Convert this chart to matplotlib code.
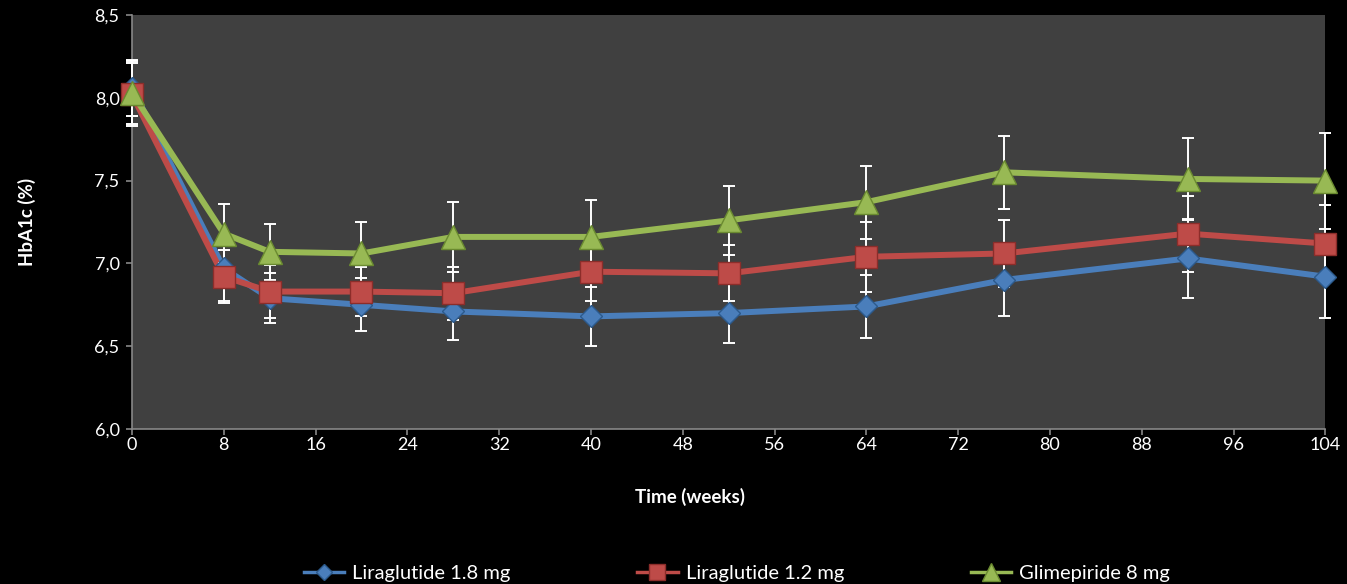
import numpy as np
import matplotlib.pyplot as plt
from matplotlib.ticker import FuncFormatter
from matplotlib.lines import Line2D

plt.rcParams['font.family'] = ['Lato', 'DejaVu Sans']

weeks = [0, 8, 12, 20, 28, 40, 52, 64, 76, 92, 104]

lira18 = [8.06, 6.97, 6.79, 6.75, 6.71, 6.68, 6.70, 6.74, 6.90, 7.03, 6.92]
lira18_err = [0.17, 0.20, 0.15, 0.16, 0.17, 0.18, 0.18, 0.19, 0.22, 0.24, 0.25]

lira12 = [8.02, 6.92, 6.83, 6.83, 6.82, 6.95, 6.94, 7.04, 7.06, 7.18, 7.12]
lira12_err = [0.19, 0.16, 0.16, 0.15, 0.16, 0.18, 0.17, 0.21, 0.20, 0.23, 0.23]

glim = [8.03, 7.18, 7.07, 7.06, 7.16, 7.16, 7.26, 7.37, 7.55, 7.51, 7.50]
glim_err = [0.19, 0.18, 0.17, 0.19, 0.21, 0.22, 0.21, 0.22, 0.22, 0.25, 0.29]

labels = ['Liraglutide 1.8 mg', 'Liraglutide 1.2 mg', 'Glimepiride 8 mg']

series = [
    (lira18, lira18_err, '#4A7EBB', '#2C5A8C', 'D', 11),
    (lira12, lira12_err, '#BE4B48', '#8C2D2A', 's', 15.5),
    (glim, glim_err, '#98B954', '#6A8A30', '^', 17.5),
]

fig = plt.figure(figsize=(13.47, 5.84), dpi=100, facecolor='black')
ax = fig.add_axes([0.098, 0.2654, 0.8859, 0.7089])
ax.set_facecolor('#404040')

handles = []
for (vals, err, col, edge, mk, ms), lab in zip(series, labels):
    ax.plot(weeks, vals, color=col, lw=4.3, zorder=2, solid_joinstyle='round',
            clip_on=False)
    eb = ax.errorbar(weeks, vals, yerr=err, fmt='none', ecolor='white',
                     elinewidth=1.4, capsize=4.5, capthick=1.4, zorder=3)
    for art in eb.lines[1] + eb.lines[2]:
        art.set_clip_on(False)
    ax.plot(weeks, vals, ls='none', marker=mk, ms=ms, mfc=col, mec=edge,
            mew=1.0, zorder=4, clip_on=False)
    handles.append(Line2D([0], [0], color=col, lw=2.5, marker=mk,
                          ms=ms * 0.75, mfc=col, mec=edge, label=lab))

ax.set_xlim(0, 104)
ax.set_ylim(6.0, 8.5)
ax.set_xticks(np.arange(0, 105, 8))
ax.set_yticks(np.arange(6.0, 8.51, 0.5))
ax.yaxis.set_major_formatter(FuncFormatter(lambda v, p: f"{v:.1f}".replace('.', ',')))

for s in ['top', 'right']:
    ax.spines[s].set_visible(False)
for s in ['left', 'bottom']:
    ax.spines[s].set_color('#878787')
    ax.spines[s].set_linewidth(1.2)
ax.tick_params(colors='#878787', length=4, width=1.2, labelcolor='white',
               labelsize=13)
ax.tick_params(axis='x', pad=2)
ax.tick_params(axis='y', pad=5)

ax.set_xlabel('Time (weeks)', color='white', fontsize=13.5, fontweight='bold')
ax.xaxis.set_label_coords(0.468, -0.142)
ax.xaxis.label.set_va('top')
ax.set_ylabel('HbA1c (%)', color='white', fontsize=13.5, fontweight='bold')
ax.yaxis.set_label_coords(-0.088, 0.5)
ax.yaxis.label.set_va('center')

fig.legend(handles=handles, loc='lower left', bbox_to_anchor=(0.224, 0.0),
           ncol=3, frameon=False, fontsize=14.5, labelcolor='white',
           borderpad=0.1, borderaxespad=0.0,
           columnspacing=6.3, handlelength=2.0, handletextpad=0.4)

fig.savefig('out.png', dpi=100, facecolor='black')
